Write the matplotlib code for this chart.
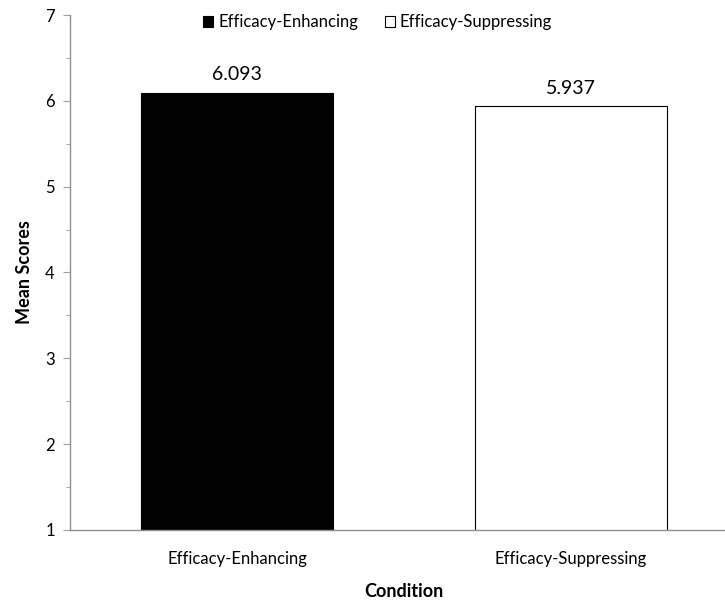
import matplotlib.pyplot as plt
from matplotlib.patches import Patch
from matplotlib.ticker import MultipleLocator

conditions = ['Efficacy-Enhancing', 'Efficacy-Suppressing']
mean_scores = [6.093, 5.937]
bar_colors = ['black', 'white']

plt.rcParams['font.family'] = ['Lato', 'DejaVu Sans']

fig = plt.figure(figsize=(7.25, 6.03), dpi=100)
ax = fig.add_axes([0.0966, 0.1211, 0.9214, 0.854])

x = range(len(conditions))
bars = ax.bar(x, mean_scores, width=0.575, color=bar_colors,
              edgecolor='black', linewidth=0.8, zorder=2)

for b, v in zip(bars, mean_scores):
    ax.annotate(f'{v:.3f}', (b.get_x() + b.get_width() / 2, v),
                xytext=(0, 7), textcoords='offset points',
                ha='center', va='bottom', fontsize=14)

ax.set_xlim(-0.5, 1.5)
ax.set_ylim(1, 7)
ax.set_xticks(list(x))
ax.set_xticklabels(conditions, fontsize=12)
ax.yaxis.set_major_locator(MultipleLocator(1))
ax.yaxis.set_minor_locator(MultipleLocator(0.5))
ax.tick_params(axis='x', length=0, pad=15)
ax.tick_params(axis='y', which='major', length=5, color='#a0a0a0', labelsize=12, pad=6)
ax.tick_params(axis='y', which='minor', length=3, color='#a0a0a0')

for side in ['top', 'right']:
    ax.spines[side].set_visible(False)
for side in ['left', 'bottom']:
    ax.spines[side].set_color('#909090')
    ax.spines[side].set_linewidth(1)

ax.set_ylabel('Mean Scores', fontsize=13, fontweight='bold', labelpad=9)
ax.set_xlabel('Condition', fontsize=13, fontweight='bold', labelpad=12)

handles = [Patch(facecolor=c, edgecolor='black', linewidth=0.8) for c in bar_colors]
fig.legend(handles, conditions, loc='center', bbox_to_anchor=(0.521, 0.963),
           ncol=2, frameon=False, fontsize=12, handlelength=0.6, handleheight=0.6,
           handletextpad=0.3, columnspacing=1.6)

fig.savefig('out.png', dpi=100)
